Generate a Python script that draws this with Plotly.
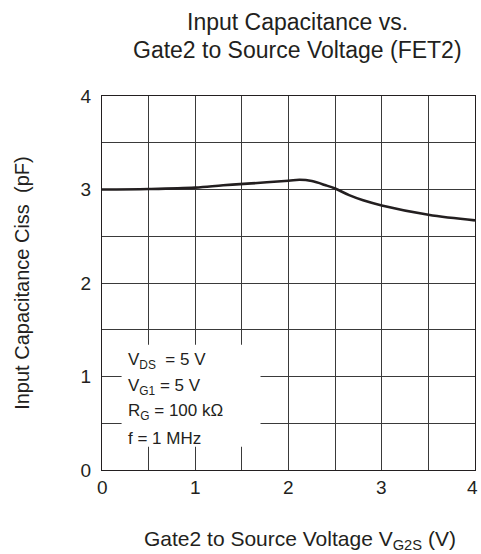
import plotly.graph_objects as go

vg2s = [0.0, 0.5, 1.0, 1.3, 1.6, 2.0, 2.12, 2.25, 2.4, 2.5, 2.65, 2.8, 3.0, 3.5, 4.0]
ciss = [3.0, 3.005, 3.02, 3.045, 3.065, 3.094, 3.104, 3.09, 3.045, 3.01, 2.94, 2.885, 2.83, 2.73, 2.67]

x_range = [0, 4]
x_label_vals = [0, 1, 2, 3, 4]
x_label_text = ["0", "1", "2", "3", "4"]
grid_vals = [0, 0.5, 1, 1.5, 2, 2.5, 3, 3.5, 4]
y_tick_text = ["0", "", "1", "", "2", "", "3", "", "4"]

cond_lines = ["V<sub>DS</sub>  = 5 V", "V<sub>G1</sub> = 5 V", "R<sub>G</sub> = 100 k\u03a9", "f = 1 MHz"]
cond_y = [1.17, 0.89, 0.62, 0.34]

title_lines = ["Input Capacitance vs.", "Gate2 to Source Voltage (FET2)"]
title_y = [1.198, 1.123]

ink = "#231f20"
font_family = "Liberation Sans, Arial, sans-serif"

fig = go.Figure()
fig.add_trace(go.Scatter(x=vg2s, y=ciss, mode="lines",
                         line=dict(color=ink, width=2.6, shape="spline", smoothing=1.0),
                         hoverinfo="skip", showlegend=False))

fig.add_shape(type="rect", xref="x", yref="y", x0=0.21, x1=1.70, y0=0.25, y1=1.34,
              fillcolor="white", line=dict(width=0), layer="above")

for txt, yy in zip(cond_lines, cond_y):
    fig.add_annotation(x=0.26, y=yy, xref="x", yref="y", text=txt, showarrow=False,
                       xanchor="left", yanchor="middle", align="left",
                       font=dict(size=17, color=ink, family=font_family))

for v, t in zip(x_label_vals, x_label_text):
    frac = (v - x_range[0]) / (x_range[1] - x_range[0])
    last = v == x_range[1]
    fig.add_annotation(x=frac, y=-0.048, xref="paper", yref="paper", text=t, showarrow=False,
                       xanchor="right" if last else "center", yanchor="middle",
                       xshift=4 if last else 0, borderpad=0,
                       font=dict(size=19, color=ink, family=font_family))

for t, yy in zip(title_lines, title_y):
    fig.add_annotation(x=0.525, y=yy, xref="paper", yref="paper", text=t, showarrow=False,
                       xanchor="center", yanchor="middle",
                       font=dict(size=23, color=ink, family=font_family))

fig.add_annotation(x=0.53, y=-0.187, xref="paper", yref="paper",
                   text="Gate2 to Source Voltage V<sub>G2S</sub> (V)", showarrow=False,
                   xanchor="center", yanchor="middle",
                   font=dict(size=21, color=ink, family=font_family))
fig.add_annotation(x=-0.215, y=0.5, xref="paper", yref="paper",
                   text="Input Capacitance Ciss  (pF)", showarrow=False, textangle=-90,
                   xanchor="center", yanchor="middle",
                   font=dict(size=20, color=ink, family=font_family))

axis_common = dict(showgrid=True, gridcolor="#3a3a3a", gridwidth=1, showline=True,
                   linecolor=ink, linewidth=1.3, mirror=True, zeroline=False,
                   ticks="", tickvals=grid_vals)

fig.update_xaxes(showticklabels=False, range=x_range, **axis_common)
fig.update_yaxes(ticktext=y_tick_text, ticklabelstandoff=6, range=[0, 4],
                 tickfont=dict(size=19, color=ink, family=font_family), **axis_common)

fig.update_layout(
    width=481, height=554,
    margin=dict(l=102, r=6, t=96, b=84),
    paper_bgcolor="white", plot_bgcolor="white",
    font=dict(family=font_family, color=ink),
)

fig.write_html("out.html", config={"displayModeBar": False},
               post_script="document.body.style.margin='0';document.body.style.overflow='hidden';")
